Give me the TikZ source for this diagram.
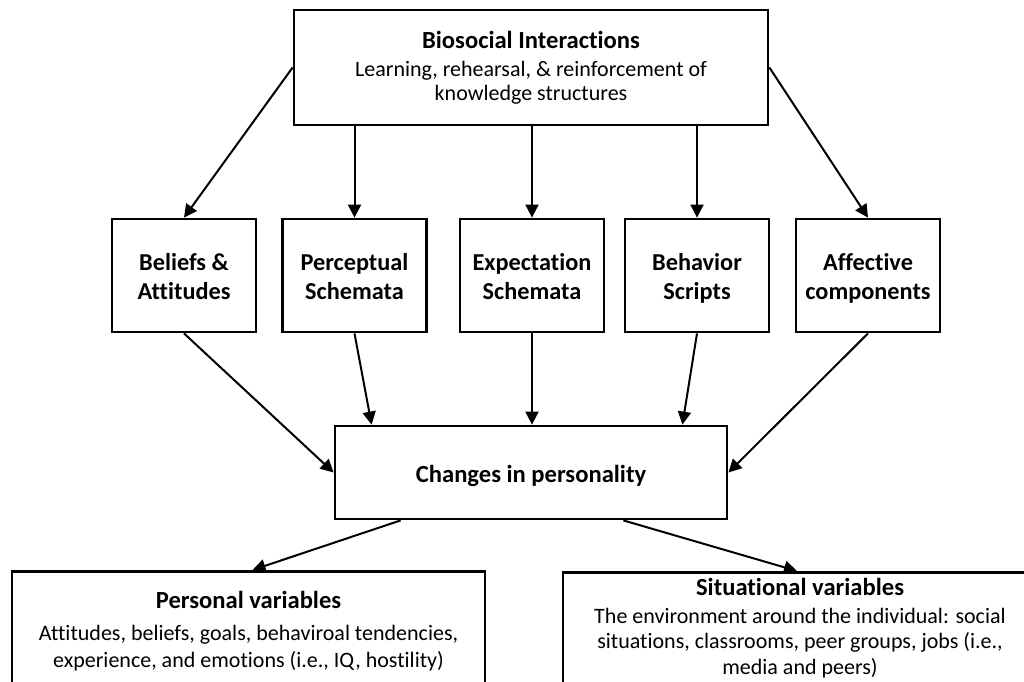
\documentclass[tikz,border=0pt]{standalone}
\usepackage{fontspec}
\setmainfont{Carlito}[Ligatures=NoCommon]
\usetikzlibrary{arrows.meta,calc}
\begin{document}
\begin{tikzpicture}[x=1pt,y=-1pt,
  box/.style={draw,line width=2.8pt,rectangle,inner sep=0pt},
  mid/.style={box,minimum width=144,minimum height=113},
  midtxt/.style={align=center,inner sep=0pt,anchor=base,font=\fontsize{24.3}{29}\selectfont\bfseries},
  arr/.style={line width=2pt,-{Triangle[length=13pt,width=13pt]}},
  ttl/.style={inner sep=0pt,anchor=base,font=\fontsize{24.6}{29}\selectfont\bfseries},
  body/.style={align=center,inner sep=0pt,anchor=base}]
\useasboundingbox (0,0) rectangle (1024,681);
\clip (0,0) rectangle (1024,681);
\fill[white] (0,0) rectangle (1024,681);
% top box
\node[box,minimum width=474,minimum height=115] (top) at (531,67.5) {};
\node[ttl] (toptitle) at (531,48) {Biosocial Interactions};
\node[body,font=\fontsize{22}{24}\selectfont] (topbody) at (531,100) {Learning, rehearsal, \& reinforcement of\\knowledge structures};
% middle boxes
\node[mid] (b1) at (184,275.5) {};
\node[mid] (b2) at (354.5,275.5) {};
\node[mid] (b3) at (532,275.5) {};
\node[mid] (b4) at (697,275.5) {};
\node[mid] (b5) at (868,275.5) {};
\node[midtxt] (t1) at (184,299) {Beliefs \&\\Attitudes};
\node[midtxt] (t2) at (354.5,299) {Perceptual\\Schemata};
\node[midtxt] (t3) at (532,299) {Expectation\\Schemata};
\node[midtxt] (t4) at (697,299) {Behavior\\Scripts};
\node[midtxt] (t5) at (868,299) {Affective\\components};
% changes
\node[box,minimum width=392,minimum height=93] (ch) at (531,472.5) {};
\node[ttl] (chtext) at (531,482) {Changes in personality};
% bottom boxes
\node[box,minimum width=473,minimum height=140,anchor=north] (pbox) at (248.5,570) {};
\node[ttl] (ptitle) at (248.5,608) {Personal variables};
\node[body,font=\fontsize{22}{27}\selectfont] (pbody) at (248.5,667) {Attitudes, beliefs, goals, behaviroal tendencies,\\experience, and emotions (i.e., IQ, hostility)};
\node[box,minimum width=474,minimum height=140,anchor=north] (sbox) at (800,571) {};
\node[ttl] (stitle) at (800,595) {Situational variables};
\node[body,font=\fontsize{22}{25.5}\selectfont] (sbody) at (800,674) {The environment around the individual: social\\situations, classrooms, peer groups, jobs (i.e.,\\media and peers)};
% arrows top -> middle
\draw[arr] (top.west) -- (b1.north);
\draw[arr] (b2.north |- top.south) -- (b2.north);
\draw[arr] (b3.north |- top.south) -- (b3.north);
\draw[arr] (b4.north |- top.south) -- (b4.north);
\draw[arr] (top.east) -- (b5.north);
% middle -> changes
\draw[arr] (b1.south) -- (ch.west);
\draw[arr] (b2.south) -- ([xshift=38]ch.north west);
\draw[arr] (b3.south) -- (b3.south |- ch.north);
\draw[arr] (b4.south) -- ([xshift=-46]ch.north east);
\draw[arr] (b5.south) -- (ch.east);
% changes -> bottom
\draw[arr] ([xshift=67]ch.south west) -- ([xshift=4]pbox.north);
\draw[arr] ([xshift=-105]ch.south east) -- ([xshift=-3]sbox.north);
\end{tikzpicture}
\end{document}
